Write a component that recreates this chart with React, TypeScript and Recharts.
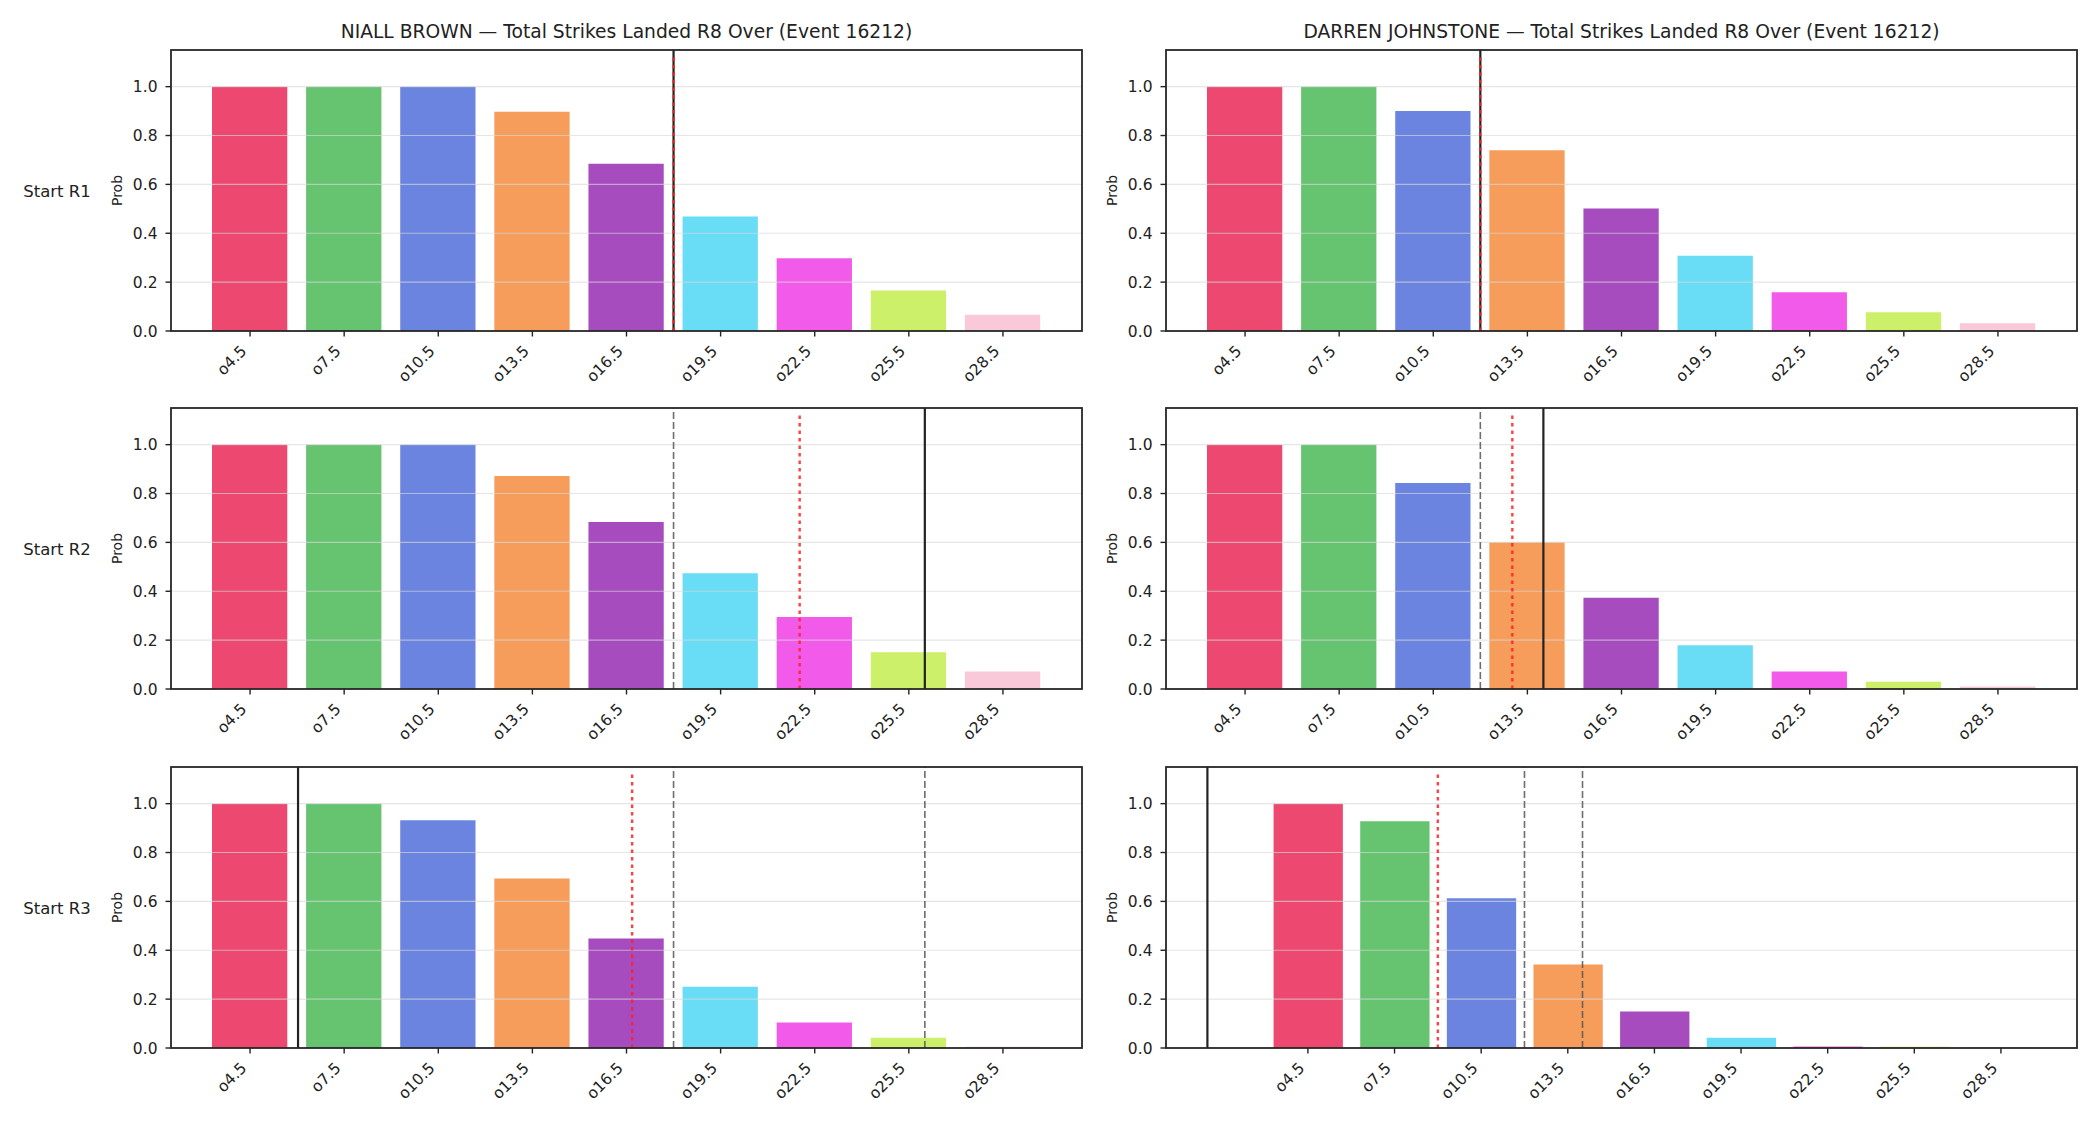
import React from 'react';
import { ComposedChart, Bar, Cell, XAxis, YAxis, ReferenceLine } from 'recharts';

// ---------- data ----------
const categories = ['o4.5', 'o7.5', 'o10.5', 'o13.5', 'o16.5', 'o19.5', 'o22.5', 'o25.5', 'o28.5'];
const barColors = ['#EC4870', '#66C36F', '#6B84DF', '#F69D5C', '#A64CBF', '#69DCF6', '#F25BE9', '#CCF06A', '#F9C9D9'];
const yTicks = [0, 0.2, 0.4, 0.6, 0.8, 1.0];
const Y_MAX = 1.15;

const playerTitles = [
  'NIALL BROWN — Total Strikes Landed R8 Over (Event 16212)',
  'DARREN JOHNSTONE — Total Strikes Landed R8 Over (Event 16212)',
];
const rowLabels = ['Start R1', 'Start R2', 'Start R3'];

const niallR1 = [1.0, 1.0, 1.0, 0.897, 0.684, 0.469, 0.298, 0.166, 0.067];
const darrenR1 = [1.0, 1.0, 0.9, 0.74, 0.501, 0.308, 0.159, 0.077, 0.032];
const niallR2 = [1.0, 1.0, 1.0, 0.872, 0.683, 0.474, 0.295, 0.15, 0.072];
const darrenR2 = [1.0, 1.0, 0.843, 0.601, 0.373, 0.179, 0.072, 0.03, 0.01];
const niallR3 = [1.0, 1.0, 0.932, 0.694, 0.448, 0.251, 0.104, 0.042, 0.005];
const darrenR3 = [1.0, 0.928, 0.613, 0.342, 0.149, 0.042, 0.006, 0.005, 0.004];

// vertical marker lines (in category-index units)
const niallR1Solid = [4.5];
const niallR1Dashed: number[] = [];
const niallR1Dotted = [4.5];
const darrenR1Solid = [2.5];
const darrenR1Dashed: number[] = [];
const darrenR1Dotted = [2.5];
const niallR2Solid = [7.17];
const niallR2Dashed = [4.5];
const niallR2Dotted = [5.84];
const darrenR2Solid = [3.17];
const darrenR2Dashed = [2.5];
const darrenR2Dotted = [2.84];
const niallR3Solid = [0.51];
const niallR3Dashed = [4.5, 7.17];
const niallR3Dotted = [4.06];
const darrenR3Solid = [-1.16];
const darrenR3Dashed = [2.5, 3.17];
const darrenR3Dotted = [1.5];

const panels = [
  { row: 0, col: 0, values: niallR1, solid: niallR1Solid, dashed: niallR1Dashed, dotted: niallR1Dotted },
  { row: 0, col: 1, values: darrenR1, solid: darrenR1Solid, dashed: darrenR1Dashed, dotted: darrenR1Dotted },
  { row: 1, col: 0, values: niallR2, solid: niallR2Solid, dashed: niallR2Dashed, dotted: niallR2Dotted },
  { row: 1, col: 1, values: darrenR2, solid: darrenR2Solid, dashed: darrenR2Dashed, dotted: darrenR2Dotted },
  { row: 2, col: 0, values: niallR3, solid: niallR3Solid, dashed: niallR3Dashed, dotted: niallR3Dotted },
  { row: 2, col: 1, values: darrenR3, solid: darrenR3Solid, dashed: darrenR3Dashed, dotted: darrenR3Dotted },
];

// ---------- layout ----------
const FONT = '"DejaVu Sans", sans-serif';
const TEXT_COLOR = '#222222';
const PLOT_LEFT = [171, 1166];
const PLOT_TOP = [50, 408, 767];
const PLOT_W = 911;
const PLOT_H = 281;
const MARGIN = { top: 10, right: 10, left: 10, bottom: 10 };
const Y_AXIS_W = 60;
const X_AXIS_H = 60;
const CHART_W = PLOT_W + MARGIN.left + MARGIN.right + Y_AXIS_W;
const CHART_H = PLOT_H + MARGIN.top + MARGIN.bottom + X_AXIS_H;
const TICK_SIZE = 5.5;

const XTick = (props: any) => {
  const { x, y, payload } = props;
  const ax = x - 2.5;
  const ay = y + 15.5;
  return (
    <text
      x={ax}
      y={ay}
      textAnchor="end"
      transform={`rotate(-45 ${ax} ${ay})`}
      fontSize={15.5}
      fontFamily={FONT}
      fill={TEXT_COLOR}
    >
      {categories[payload.value]}
    </text>
  );
};

function Panel({ p }: { p: (typeof panels)[number] }) {
  const lines = [...p.solid, ...p.dashed, ...p.dotted];
  const lo0 = Math.min(-0.4, ...lines);
  const hi0 = Math.max(categories.length - 1 + 0.4, ...lines);
  const pad = 0.05 * (hi0 - lo0);
  const domain: [number, number] = [lo0 - pad, hi0 + pad];
  const barSize = (0.8 * PLOT_W) / (domain[1] - domain[0]);
  const data = p.values.map((v, i) => ({ x: i, p: v }));
  const xTicks = categories.map((_, i) => i);

  return (
    <div
      style={{
        position: 'absolute',
        left: PLOT_LEFT[p.col] - MARGIN.left - Y_AXIS_W,
        top: PLOT_TOP[p.row] - MARGIN.top,
      }}
    >
      <ComposedChart width={CHART_W} height={CHART_H} data={data} margin={MARGIN}>
        <XAxis
          type="number"
          dataKey="x"
          domain={domain}
          allowDataOverflow
          ticks={xTicks}
          interval={0}
          height={X_AXIS_H}
          axisLine={false}
          tickSize={TICK_SIZE}
          tickMargin={0}
          tickLine={{ stroke: TEXT_COLOR, strokeWidth: 1.4 }}
          tick={<XTick />}
        />
        <YAxis
          type="number"
          domain={[0, Y_MAX]}
          allowDataOverflow
          ticks={yTicks}
          interval={0}
          width={Y_AXIS_W}
          axisLine={false}
          tickSize={TICK_SIZE}
          tickMargin={8}
          tickLine={{ stroke: TEXT_COLOR, strokeWidth: 1.4 }}
          tickFormatter={(v: number) => v.toFixed(1)}
          tick={{ fontSize: 15.5, fontFamily: FONT, fill: TEXT_COLOR }}
        />
        <Bar dataKey="p" barSize={barSize} isAnimationActive={false}>
          {data.map((_, i) => (
            <Cell key={i} fill={barColors[i]} />
          ))}
        </Bar>
        {yTicks
          .filter((t) => t > 0)
          .map((t) => (
            <ReferenceLine key={`g${t}`} y={t} stroke="#d8d8d8" strokeOpacity={0.65} strokeWidth={1.2} />
          ))}
        {p.dashed.map((v, i) => (
          <ReferenceLine
            key={`d${i}`}
            x={v}
            stroke="#555555"
            strokeOpacity={0.85}
            strokeWidth={1.6}
            strokeDasharray="7 3"
          />
        ))}
        {p.solid.map((v, i) => (
          <ReferenceLine key={`s${i}`} x={v} stroke="#222222" strokeWidth={2.2} />
        ))}
        {p.dotted.map((v, i) => (
          <ReferenceLine
            key={`r${i}`}
            segment={[
              { x: v, y: 0 },
              { x: v, y: 1.13 },
            ]}
            stroke="#ff2020"
            strokeOpacity={0.85}
            strokeWidth={2.4}
            strokeDasharray="3.5 4"
          />
        ))}
      </ComposedChart>
    </div>
  );
}

export default function App() {
  return (
    <div
      style={{
        position: 'absolute',
        left: 0,
        top: 0,
        width: 2100,
        height: 1125,
        background: '#ffffff',
        overflow: 'hidden',
      }}
    >
      {panels.map((p, i) => (
        <Panel key={i} p={p} />
      ))}
      <svg
        width={2100}
        height={1125}
        style={{ position: 'absolute', left: 0, top: 0, pointerEvents: 'none' }}
      >
        {playerTitles.map((t, c) => (
          <text
            key={`t${c}`}
            x={PLOT_LEFT[c] + PLOT_W / 2}
            y={38}
            textAnchor="middle"
            fontSize={18.7}
            fontFamily={FONT}
            fill={TEXT_COLOR}
          >
            {t}
          </text>
        ))}
        {rowLabels.map((t, r) => (
          <text
            key={`rl${r}`}
            x={57}
            y={PLOT_TOP[r] + PLOT_H / 2 + 6}
            textAnchor="middle"
            fontSize={16.5}
            fontFamily={FONT}
            fill={TEXT_COLOR}
          >
            {t}
          </text>
        ))}
        {panels.map((p, i) => {
          const cx = PLOT_LEFT[p.col] - 54.4;
          const cy = PLOT_TOP[p.row] + PLOT_H / 2;
          return (
            <text
              key={`pl${i}`}
              x={cx}
              y={cy}
              textAnchor="middle"
              dominantBaseline="central"
              transform={`rotate(-90 ${cx} ${cy})`}
              fontSize={14}
              fontFamily={FONT}
              fill={TEXT_COLOR}
            >
              Prob
            </text>
          );
        })}
        {panels.map((p, i) => (
          <rect
            key={`f${i}`}
            x={PLOT_LEFT[p.col]}
            y={PLOT_TOP[p.row]}
            width={PLOT_W}
            height={PLOT_H}
            fill="none"
            stroke="#262626"
            strokeWidth={1.8}
          />
        ))}
      </svg>
    </div>
  );
}
